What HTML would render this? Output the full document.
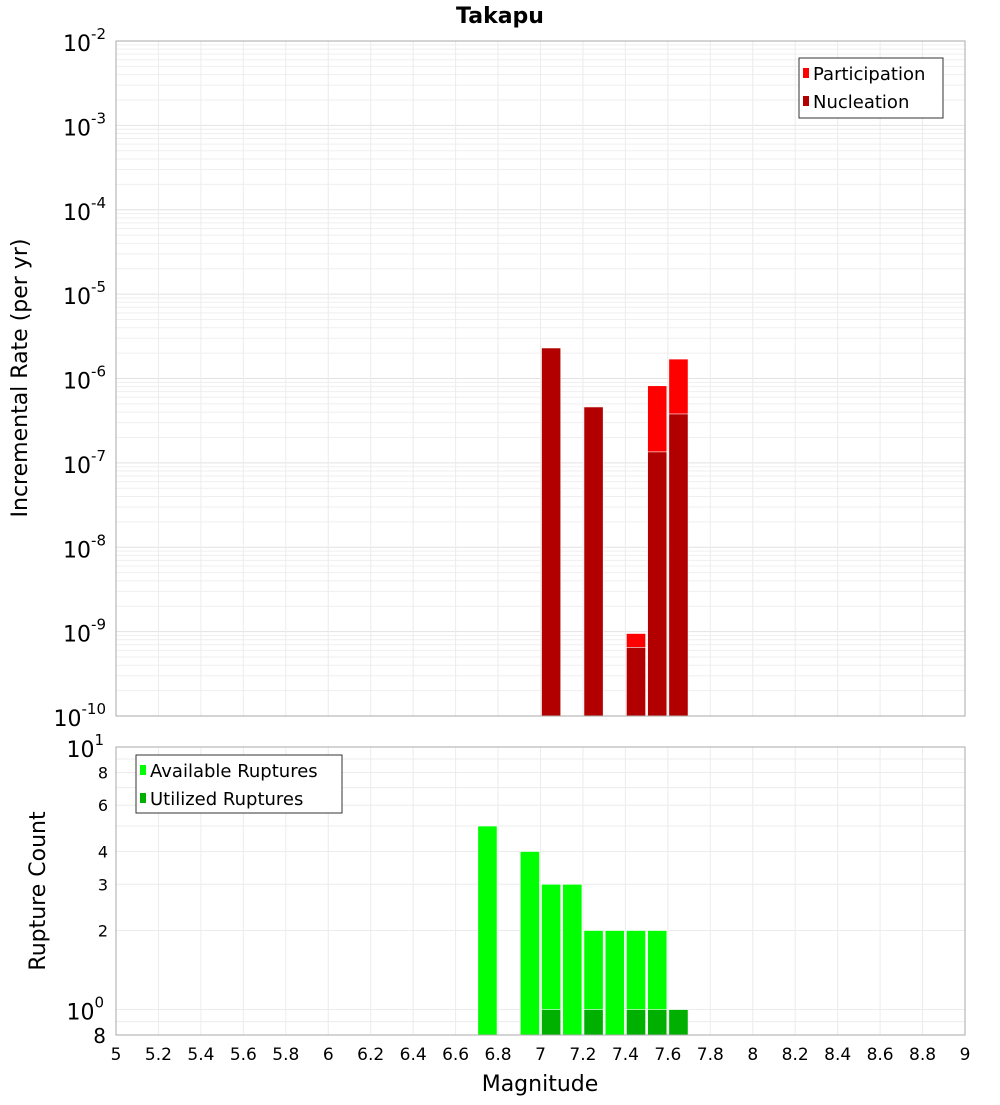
<!DOCTYPE html>
<html><head><meta charset="utf-8"><style>
body{margin:0;background:#fff;font-family:"Liberation Sans","DejaVu Sans",sans-serif}
svg text{font-family:"DejaVu Sans","Liberation Sans",sans-serif}
</style></head><body>
<svg id="c" width="1000" height="1100" xmlns="http://www.w3.org/2000/svg">
<rect width="1000" height="1100" fill="#fff"/>
<text x="500" y="23" text-anchor="middle" font-size="22" font-weight="bold">Takapu</text>
<g id="topg"></g><g id="botg"></g>
<text transform="translate(27,378) rotate(-90)" text-anchor="middle" font-size="22">Incremental Rate (per yr)</text>
<text transform="translate(45,891) rotate(-90)" text-anchor="middle" font-size="22">Rupture Count</text>
<text x="540" y="1091" text-anchor="middle" font-size="22">Magnitude</text>
</svg>
<script>
const mags=[7.05,7.25,7.45,7.55,7.65];
const participation=[2.3e-6,4.6e-7,9.5e-10,8.2e-7,1.7e-6];
const nucleation=[2.3e-6,4.6e-7,6.5e-10,1.35e-7,3.8e-7];
const countMags=[6.75,6.95,7.05,7.15,7.25,7.35,7.45,7.55,7.65];
const available=[5,4,3,3,2,2,2,2,1];
const utilMags=[7.05,7.25,7.45,7.55,7.65];
const utilized=[1,1,1,1,1];
const xTicks=[5,5.2,5.4,5.6,5.8,6,6.2,6.4,6.6,6.8,7,7.2,7.4,7.6,7.8,8,8.2,8.4,8.6,8.8,9];
const topExps=[-2,-3,-4,-5,-6,-7,-8,-9,-10];
const botSmallTicks=[8,6,4,3,2];

const NS='http://www.w3.org/2000/svg';
const X0=116,X1=965;
const x=m=>X0+(m-5)/4*(X1-X0);
const TY0=41,TY1=716;
const yT=v=>TY0+(-2-Math.log10(v))/8*(TY1-TY0);
const BY0=747,BY1=1035;
const yB=v=>BY0+(1-Math.log10(v))/(1-Math.log10(0.8))*(BY1-BY0);
function el(p,t,a){const e=document.createElementNS(NS,t);for(const k in a)e.setAttribute(k,a[k]);p.appendChild(e);return e;}
const gTop=document.getElementById('topg'),gBot=document.getElementById('botg');

for(let e=-10;e<-2;e++)for(let k=1;k<10;k++){const yy=yT(k*Math.pow(10,e));
 const l=el(gTop,'line',{x1:X0,x2:X1,y1:yy,y2:yy,stroke:k==1?'#e2e2e2':'#efefef','stroke-width':1});
 
 }
xTicks.forEach(t=>{const l=el(gTop,'line',{x1:x(t),x2:x(t),y1:TY0,y2:TY1,stroke:'#ececec'});
 
 });
mags.forEach((m,i)=>{
 const a=x(m-0.05)+1,w=x(m+0.05)-x(m-0.05)-2;
 const p=el(gTop,'rect',{x:a,y:yT(participation[i]),width:w,height:TY1-yT(participation[i]),fill:'#ff0000',stroke:'#fff','stroke-width':0.6});
 
 
 const n=el(gTop,'rect',{x:a,y:yT(nucleation[i]),width:w,height:TY1-yT(nucleation[i]),fill:'#b20000',stroke:'#fff','stroke-width':0.6});
 
 
});
const tf=el(gTop,'rect',{x:X0,y:TY0,width:X1-X0,height:TY1-TY0,fill:'none',stroke:'#aaa'});


topExps.forEach(e=>{const yy=yT(Math.pow(10,e));
 const t=el(gTop,'text',{x:106,y:yy+10,'text-anchor':'end','font-size':22});
 
 
 t.textContent='10';const s=el(t,'tspan',{dy:-12,'font-size':15});s.textContent=String(e);});
const lg=el(gTop,'g',{});


el(lg,'rect',{x:799,y:58,width:144,height:60,fill:'#fff',stroke:'#333'});
el(lg,'rect',{x:803,y:68,width:6,height:10,fill:'#ff0000'});
el(lg,'rect',{x:803,y:96,width:6,height:10,fill:'#b20000'});
let t1=el(lg,'text',{x:813,y:80,'font-size':18});t1.textContent='Participation';
let t2=el(lg,'text',{x:813,y:108,'font-size':18});t2.textContent='Nucleation';

[0.8,0.9,1,2,3,4,5,6,7,8,9].forEach(v=>{const yy=yB(v);
 const l=el(gBot,'line',{x1:X0,x2:X1,y1:yy,y2:yy,stroke:'#ececec'});
 
 });
xTicks.forEach(t=>{const l=el(gBot,'line',{x1:x(t),x2:x(t),y1:BY0,y2:BY1,stroke:'#ececec'});
 
 });
countMags.forEach((m,i)=>{const a=x(m-0.05)+1,w=x(m+0.05)-x(m-0.05)-2;
 const r=el(gBot,'rect',{x:a,y:yB(available[i]),width:w,height:BY1-yB(available[i]),fill:'#00ff00',stroke:'#fff','stroke-width':0.6});
 
 });
utilMags.forEach((m,i)=>{const a=x(m-0.05)+1,w=x(m+0.05)-x(m-0.05)-2;
 const r=el(gBot,'rect',{x:a,y:yB(utilized[i]),width:w,height:BY1-yB(utilized[i]),fill:'#00b000',stroke:'#fff','stroke-width':0.6});
 
 });
const bf=el(gBot,'rect',{x:X0,y:BY0,width:X1-X0,height:BY1-BY0,fill:'none',stroke:'#aaa'});


botSmallTicks.forEach(v=>{const t=el(gBot,'text',{x:108,y:yB(v)+6,'text-anchor':'end','font-size':16});
 
 
 t.textContent=String(v);});
[[10,'1'],[1,'0']].forEach(([v,e])=>{const t=el(gBot,'text',{x:104,y:yB(v)+10,'text-anchor':'end','font-size':22});
 
 
 t.textContent='10';const s=el(t,'tspan',{dy:-12,'font-size':15});s.textContent=e;});
const b8=el(gBot,'text',{x:106,y:1043,'text-anchor':'end','font-size':20});


b8.textContent='8';
xTicks.forEach(v=>{const t=el(gBot,'text',{x:x(v),y:1060,'text-anchor':'middle','font-size':17});
 
 
 t.textContent=String(v);});
const bl=el(gBot,'g',{});


el(bl,'rect',{x:136,y:755,width:206,height:58,fill:'#fff',stroke:'#333'});
el(bl,'rect',{x:140,y:765,width:6,height:10,fill:'#00ff00'});
el(bl,'rect',{x:140,y:793,width:6,height:10,fill:'#00b000'});
let t3=el(bl,'text',{x:150,y:777,'font-size':18});t3.textContent='Available Ruptures';
let t4=el(bl,'text',{x:150,y:805,'font-size':18});t4.textContent='Utilized Ruptures';
</script>
</body></html>
